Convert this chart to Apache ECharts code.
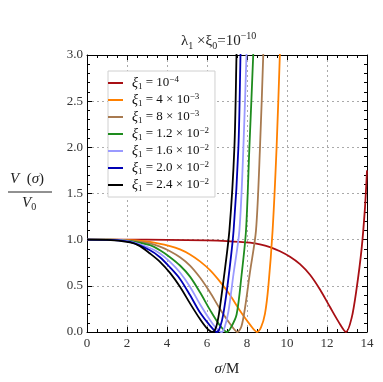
<!DOCTYPE html>
<html>
<head>
<meta charset="utf-8">
<script src="https://cdn.jsdelivr.net/npm/echarts@6/dist/echarts.min.js"></script>
<style>
  * { margin: 0; padding: 0; }
  body { background: #fff; }
  #chart { width: 383px; height: 382px; }
</style>
</head>
<body>
<div id="chart"></div>
<script>
// legend labels: mantissa and exponent of xi_1
var xiMant = ['', '4', '8', '1.2', '1.6', '2.0', '2.4'];
var xiExp = ['\u22124', '\u22123', '\u22123', '\u22122', '\u22122', '\u22122', '\u22122'];
var colors = ['#a80f14', '#ff8000', '#a87a50', '#1e8c1e', '#9a9aff', '#0000b4', '#000000'];

// V(sigma)/V0, [sigma/M, V/V0]
var curveRed = [[0, 1], [2, 1], [4, 0.998], [6, 0.993], [7, 0.985], [8.15, 0.967], [8.65, 0.95], [9.15, 0.92],
  [9.65, 0.875], [10.15, 0.815], [10.65, 0.735], [11.15, 0.62], [11.65, 0.46], [12.15, 0.27], [12.65, 0.085],
  [12.95, 0.0], [13.23, 0.15], [13.48, 0.47], [13.73, 0.9], [13.9, 1.35], [14, 1.75]];
var curveOrange = [[0, 1], [1, 1], [2.15, 0.995], [3.15, 0.975], [4.15, 0.93], [4.65, 0.895], [5.15, 0.84],
  [5.65, 0.765], [6.15, 0.67], [6.65, 0.545], [7.15, 0.4], [7.65, 0.23], [8.15, 0.08], [8.5, 0.0], [8.7, 0.05],
  [8.9, 0.2], [9.07, 0.5], [9.28, 1.1], [9.48, 2.0], [9.65, 3.05], [9.7, 3.4]];
var curveBrown = [[0, 1], [1, 1], [2.15, 0.99], [3.15, 0.96], [3.65, 0.925], [4.15, 0.875], [4.65, 0.81],
  [5.15, 0.72], [5.65, 0.59], [6.15, 0.43], [6.65, 0.25], [7.15, 0.09], [7.52, 0.0], [7.72, 0.06], [7.9, 0.26],
  [8.15, 0.65], [8.45, 1.1], [8.65, 2.0], [8.82, 3.05], [8.86, 3.4]];
var curveGreen = [[0, 1], [1, 1], [2.15, 0.985], [3.15, 0.94], [3.65, 0.885], [4.15, 0.81], [4.65, 0.72],
  [5.15, 0.6], [5.65, 0.43], [6.15, 0.24], [6.65, 0.07], [7.0, 0.0], [7.2, 0.05], [7.48, 0.19], [7.73, 0.62],
  [7.95, 1.1], [8.12, 2.0], [8.32, 3.05], [8.36, 3.4]];
var curveLight = [[0, 1], [1, 0.999], [2.15, 0.98], [3.15, 0.91], [3.65, 0.85], [4.15, 0.76], [4.65, 0.645],
  [5.15, 0.49], [5.65, 0.3], [6.15, 0.13], [6.45, 0.045], [6.73, 0.0], [6.88, 0.05], [7.07, 0.22], [7.32, 0.62],
  [7.62, 1.1], [7.82, 2.0], [7.98, 3.05], [8.02, 3.4]];
var curveBlue = [[0, 1], [1, 0.998], [2.15, 0.975], [3.15, 0.885], [3.65, 0.81], [4.15, 0.7], [4.65, 0.575],
  [5.15, 0.4], [5.65, 0.21], [6.15, 0.07], [6.5, 0.0], [6.65, 0.05], [6.82, 0.2], [7.07, 0.58], [7.33, 1.1],
  [7.57, 2.0], [7.68, 3.05], [7.72, 3.4]];
var curveBlack = [[0, 1], [1, 0.998], [2.15, 0.97], [2.65, 0.93], [3.15, 0.85], [3.65, 0.76], [4.15, 0.64],
  [4.65, 0.49], [5.15, 0.31], [5.65, 0.14], [6.0, 0.04], [6.28, 0.0], [6.45, 0.05], [6.6, 0.2], [6.82, 0.55],
  [7.12, 1.1], [7.37, 2.0], [7.48, 3.05], [7.52, 3.4]];
var curves = [curveRed, curveOrange, curveBrown, curveGreen, curveLight, curveBlue, curveBlack];

var serif = 'Liberation Serif';
var myChart = echarts.init(document.getElementById('chart'));

var names = [];
var series = [];
for (var i = 0; i < curves.length; i++) {
  var nm = 'xi' + i;
  names.push(nm);
  series.push({
    name: nm,
    type: 'line',
    data: curves[i],
    smooth: 0.3,
    showSymbol: false,
    clip: true,
    lineStyle: { width: 1.8, color: colors[i] },
    itemStyle: { color: colors[i] }
  });
}

function frameAxis(extra) {
  var base = {
    axisLine: { show: true, onZero: false, lineStyle: { color: '#000', width: 1 } },
    axisTick: { show: true, inside: true, length: 5, lineStyle: { color: '#000' } },
    minorTick: { show: true, length: 3, lineStyle: { color: '#000' } },
    splitLine: { show: false },
    axisLabel: { show: false }
  };
  for (var k in extra) base[k] = extra[k];
  return base;
}

var txt = { fontFamily: serif, color: '#222', fontWeight: 'normal' };
function rs(o) {
  var r = {};
  for (var k in txt) r[k] = txt[k];
  for (var k2 in o) r[k2] = o[k2];
  return r;
}

myChart.setOption({
  animation: false,
  title: {
    text: '{i|\u03bb}{sub|1}{n| \u00d7}{i|\u03be}{sub|0}{n|=10}{sup|\u221210}',
    left: 176,
    top: 26,
    textStyle: {
      fontWeight: 'normal',
      rich: {
        n: rs({ fontSize: 15, lineHeight: 20 }),
        i: rs({ fontSize: 15, lineHeight: 20 }),
        sub: rs({ fontSize: 10, lineHeight: 10, verticalAlign: 'bottom' }),
        sup: rs({ fontSize: 10, lineHeight: 10, verticalAlign: 'top' })
      }
    }
  },
  grid: { left: 87, right: 16, top: 55, bottom: 48 },
  legend: {
    data: names,
    orient: 'vertical',
    left: 108,
    top: 71,
    padding: [4, 6, 4, 0],
    itemGap: 1,
    itemWidth: 15,
    itemHeight: 2,
    icon: 'rect',
    backgroundColor: '#fff',
    borderColor: '#d0d0d0',
    borderWidth: 1,
    formatter: function (name) {
      var k = names.indexOf(name);
      var s = '{i|\u03be}{sub|1}{n| = ';
      if (xiMant[k]) s += xiMant[k] + ' \u00d7 ';
      return s + '10}{sup|' + xiExp[k] + '}';
    },
    textStyle: {
      padding: [0, 0, 0, 4],
      rich: {
        n: rs({ fontSize: 13, color: '#111', lineHeight: 16 }),
        i: rs({ fontSize: 14, fontStyle: 'italic', color: '#111', lineHeight: 16 }),
        sub: rs({ fontSize: 9, color: '#111', lineHeight: 9, verticalAlign: 'bottom' }),
        sup: rs({ fontSize: 9, color: '#111', lineHeight: 9, verticalAlign: 'top' })
      }
    }
  },
  xAxis: [
    frameAxis({
      type: 'value', min: 0, max: 14, interval: 2, position: 'bottom',
      minorTick: { show: true, splitNumber: 4, length: 3, lineStyle: { color: '#000' } },
      axisLabel: { show: true, fontFamily: serif, fontSize: 13, color: '#333', margin: 5 },
      splitLine: { show: true, lineStyle: { color: '#aaa', type: [2, 3], width: 1 } },
      name: '{i|\u03c3}{n|/M}',
      nameLocation: 'middle',
      nameGap: 30,
      nameTextStyle: {
        rich: {
          i: rs({ fontSize: 15, fontStyle: 'italic' }),
          n: rs({ fontSize: 15 })
        }
      }
    }),
    frameAxis({
      type: 'value', min: 0, max: 14, interval: 2, position: 'top',
      minorTick: { show: true, splitNumber: 4, length: 3, lineStyle: { color: '#000' } }
    })
  ],
  yAxis: [
    frameAxis({
      type: 'value', min: 0, max: 3, interval: 0.5, position: 'left',
      minorTick: { show: true, splitNumber: 5, length: 3, lineStyle: { color: '#000' } },
      axisLabel: {
        show: true, fontFamily: serif, fontSize: 13, color: '#333', margin: 4,
        formatter: function (v) { return v.toFixed(1); }
      },
      splitLine: { show: true, lineStyle: { color: '#aaa', type: [2, 3], width: 1 } }
    }),
    frameAxis({
      type: 'value', min: 0, max: 3, interval: 0.5, position: 'right',
      minorTick: { show: true, splitNumber: 5, length: 3, lineStyle: { color: '#000' } }
    })
  ],
  graphic: [
    {
      type: 'text', left: 10, top: 172,
      style: {
        text: '{i|V}{n|  (}{i|\u03c3}{n|)}',
        rich: {
          i: { fontFamily: serif, fontSize: 15, fontStyle: 'italic', fill: '#222' },
          n: { fontFamily: serif, fontSize: 15, fill: '#222' }
        }
      }
    },
    {
      type: 'line', shape: { x1: 8, y1: 192, x2: 52, y2: 192 },
      style: { stroke: '#222', lineWidth: 1 }
    },
    {
      type: 'text', left: 22, top: 196,
      style: {
        text: '{i|V}{sub|0}',
        rich: {
          i: { fontFamily: serif, fontSize: 15, fontStyle: 'italic', fill: '#222', lineHeight: 18 },
          sub: { fontFamily: serif, fontSize: 10, fill: '#222', lineHeight: 10, verticalAlign: 'bottom' }
        }
      }
    }
  ],
  series: series
});
</script>
</body>
</html>
